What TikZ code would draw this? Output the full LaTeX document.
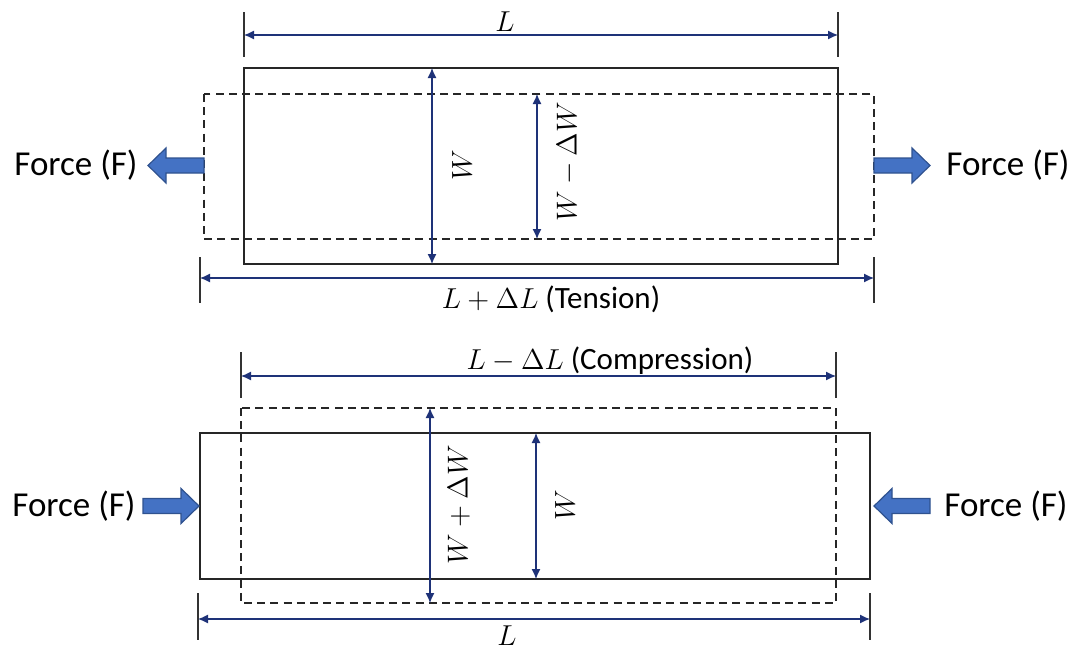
\documentclass[tikz,border=0pt]{standalone}
\usepackage{fontspec}
\setmainfont{Carlito}
\usetikzlibrary{arrows.meta}
\definecolor{dimblue}{RGB}{30,50,120}
\definecolor{arrfill}{RGB}{68,114,196}
\definecolor{arredge}{RGB}{47,82,143}
\tikzset{
  solidrect/.style={draw=black!85, line width=0.7pt},
  dashrect/.style={draw=black!85, line width=0.6pt, dash pattern=on 4pt off 2.6pt},
  extline/.style={draw=black!80, line width=0.7pt},
  dimarrow/.style={draw=dimblue, line width=0.6pt, {Latex[length=5pt,width=4.5pt]}-{Latex[length=5pt,width=4.5pt]}},
  mathlabel/.style={inner sep=1pt, font=\fontsize{15.5}{18}\selectfont},
  textlabel/.style={inner sep=1pt, font=\fontsize{15.5}{18}\selectfont},
  forcelabel/.style={inner sep=1pt, font=\fontsize{17.5}{20}\selectfont},
  forcearr/.style={fill=arrfill, draw=arredge, line width=0.6pt, line join=miter},
}
\newcommand\forcearrow[3]{%
  \draw[forcearr, shift={(#1,#2)}, xscale=#3]
    (0,-7.5) -- (38,-7.5) -- (38,-17.5) -- (56,0) -- (38,17.5) -- (38,7.5) -- (0,7.5) -- cycle;}
\begin{document}
\begin{tikzpicture}[x=0.5pt,y=-0.5pt]
\useasboundingbox (0,0) rectangle (1074,649);
% ---------- top (tension) ----------
\coordinate (s1a) at (244,68);  \coordinate (s1b) at (838,264);
\coordinate (d1a) at (204,94);  \coordinate (d1b) at (874,239);
\draw[solidrect] (s1a) rectangle (s1b);
\draw[dashrect] (d1a) rectangle (d1b);
% L dimension
\coordinate (e1t) at (244,12); \coordinate (e1b) at (244,57);
\coordinate (e2t) at (838,12); \coordinate (e2b) at (838,57);
\draw[extline] (e1t) -- (e1b);
\draw[extline] (e2t) -- (e2b);
\coordinate (La) at (244,35); \coordinate (Lb) at (838,35);
\draw[dimarrow] (La) -- (Lb);
\node[mathlabel] (Ltop) at (505,22) {$L$};
% L + dL dimension
\coordinate (e3t) at (200,257); \coordinate (e3b) at (200,303);
\coordinate (e4t) at (874,257); \coordinate (e4b) at (874,303);
\draw[extline] (e3t) -- (e3b);
\draw[extline] (e4t) -- (e4b);
\coordinate (LTa) at (200,278); \coordinate (LTb) at (874,278);
\draw[dimarrow] (LTa) -- (LTb);
\node[textlabel] (Ltension) at (551,299) {$L+\Delta L$ (Tension)};
% W dimensions
\coordinate (W1a) at (432,68); \coordinate (W1b) at (432,264);
\draw[dimarrow] (W1a) -- (W1b);
\node[mathlabel, rotate=90] (W1lab) at (462,165) {$W$};
\coordinate (W2a) at (537,94); \coordinate (W2b) at (537,239);
\draw[dimarrow] (W2a) -- (W2b);
\node[mathlabel, rotate=90] (W2lab) at (568,162) {$W-\Delta W$};
% forces
\forcearrow{204}{165.5}{-1}
\forcearrow{874}{165.5}{1}
\node[forcelabel] (F1) at (76,165) {Force (F)};
\node[forcelabel] (F2) at (1008,165) {Force (F)};
% ---------- bottom (compression) ----------
\coordinate (d2a) at (241,408); \coordinate (d2b) at (836,603);
\coordinate (s2a) at (200,433); \coordinate (s2b) at (870,579);
\draw[dashrect] (d2a) rectangle (d2b);
\draw[solidrect] (s2a) rectangle (s2b);
% L - dL dimension
\coordinate (e5t) at (241,352); \coordinate (e5b) at (241,398);
\coordinate (e6t) at (836,352); \coordinate (e6b) at (836,398);
\draw[extline] (e5t) -- (e5b);
\draw[extline] (e6t) -- (e6b);
\coordinate (LCa) at (241,376); \coordinate (LCb) at (836,376);
\draw[dimarrow] (LCa) -- (LCb);
\node[textlabel] (Lcomp) at (610,361) {$L-\Delta L$ (Compression)};
% L dimension bottom
\coordinate (e7t) at (198,593); \coordinate (e7b) at (198,640);
\coordinate (e8t) at (870,593); \coordinate (e8b) at (870,640);
\draw[extline] (e7t) -- (e7b);
\draw[extline] (e8t) -- (e8b);
\coordinate (LBa) at (198,619); \coordinate (LBb) at (870,619);
\draw[dimarrow] (LBa) -- (LBb);
\node[mathlabel] (Lbot) at (507,636) {$L$};
% W dimensions
\coordinate (W3a) at (430,408); \coordinate (W3b) at (430,603);
\draw[dimarrow] (W3a) -- (W3b);
\node[mathlabel, rotate=90] (W3lab) at (459,505) {$W+\Delta W$};
\coordinate (W4a) at (536,433); \coordinate (W4b) at (536,579);
\draw[dimarrow] (W4a) -- (W4b);
\node[mathlabel, rotate=90] (W4lab) at (565,505) {$W$};
% forces
\forcearrow{143}{506}{1}
\forcearrow{930}{506}{-1}
\node[forcelabel] (F3) at (74,506) {Force (F)};
\node[forcelabel] (F4) at (1006,506) {Force (F)};
\end{tikzpicture}
\end{document}
